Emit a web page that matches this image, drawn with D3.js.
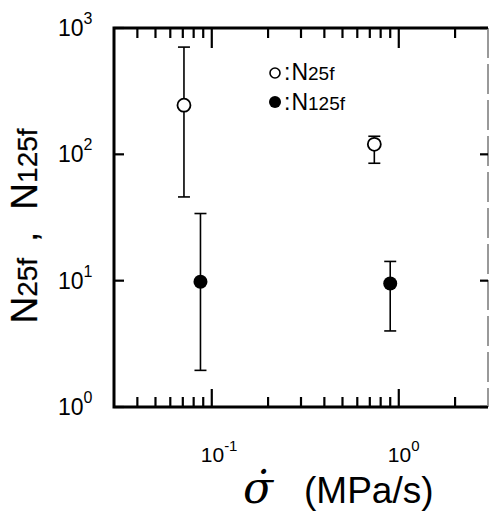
<!DOCTYPE html>
<html>
<head>
  <meta charset="utf-8">
  <script src="https://cdn.jsdelivr.net/npm/d3@7"></script>
  <style>
    body { margin: 0; background: #fff; }
    text { font-family: "Liberation Sans", Arial, sans-serif; fill: #000; }
  </style>
</head>
<body>
<script>
  // values
  var openX   = [0.071, 0.74],
      openY   = [245, 120],
      openHi  = [706, 139],
      openLo  = [46, 85];
  var fillX   = [0.087, 0.90],
      fillY   = [9.8, 9.5],
      fillHi  = [34, 14.2],
      fillLo  = [1.95, 4.0];

  var xMajor = [0.1, 1],
      xMinor = [0.04, 0.05, 0.06, 0.07, 0.08, 0.09, 0.2, 0.3, 0.4, 0.5, 0.6, 0.7, 0.8, 0.9, 2],
      xLabels = [{v: 0.1, e: "-1"}, {v: 1, e: "0"}];
  var yMajor = [1, 10, 100, 1000],
      yLabels = [{v: 1, e: "0"}, {v: 10, e: "1"}, {v: 100, e: "2"}, {v: 1000, e: "3"}];

  var width = 489, height = 512;
  var pLeft = 114, pRight = 488, pTop = 28, pBottom = 407;

  var svg = d3.select("body").append("svg")
      .attr("width", width)
      .attr("height", height);

  var x = d3.scaleLog().domain([0.03, 3]).range([pLeft, pRight]);
  var y = d3.scaleLog().domain([1, 1000]).range([pBottom, pTop]);

  /* frame */
  var frame = svg.append("g").attr("class", "frame");
  frame.append("path")
      .attr("d", "M" + pLeft + "," + pTop + "H" + pRight + "M" + pLeft + "," + (pTop - 1.5) + "V" + pBottom + "H" + pRight)
      .attr("fill", "none").attr("stroke", "#000").attr("stroke-width", 3);
  frame.append("line")
      .attr("x1", pRight).attr("x2", pRight).attr("y1", pTop).attr("y2", pBottom)
      .attr("stroke", "#999").attr("stroke-width", 2)
      .attr("stroke-dasharray", "30,6");

  /* x ticks, inward on bottom and top */
  var ticks = svg.append("g").attr("stroke", "#000").attr("stroke-width", 2.2);
  xMinor.forEach(function (v) {
    ticks.append("line").attr("x1", x(v)).attr("x2", x(v)).attr("y1", pBottom).attr("y2", pBottom - 10);
    ticks.append("line").attr("x1", x(v)).attr("x2", x(v)).attr("y1", pTop).attr("y2", pTop + 10);
  });
  xMajor.forEach(function (v) {
    ticks.append("line").attr("x1", x(v)).attr("x2", x(v)).attr("y1", pBottom).attr("y2", pBottom - 18);
    ticks.append("line").attr("x1", x(v)).attr("x2", x(v)).attr("y1", pTop).attr("y2", pTop + 20);
  });
  /* y ticks, left and right */
  yMajor.forEach(function (v) {
    ticks.append("line").attr("x1", pLeft).attr("x2", pLeft + 10).attr("y1", y(v)).attr("y2", y(v));
    ticks.append("line").attr("x1", pRight).attr("x2", pRight - 8).attr("y1", y(v)).attr("y2", y(v));
  });

  /* tick labels */
  svg.selectAll(".xl").data(xLabels).enter().append("text")
      .attr("class", "xl")
      .attr("x", function (d) { return x(d.v) - 11; })
      .attr("y", 462)
      .style("font-size", "21px")
      .each(function (d) {
        var t = d3.select(this);
        t.append("tspan").text("10");
        t.append("tspan").attr("dy", -11).style("font-size", "15px").text(d.e);
      });

  svg.selectAll(".yl").data(yLabels).enter().append("text")
      .attr("class", "yl")
      .attr("x", 58)
      .attr("y", function (d) { return y(d.v) + 8; })
      .style("font-size", "23px")
      .each(function (d) {
        var t = d3.select(this);
        t.append("tspan").text("10");
        t.append("tspan").attr("dy", -12).style("font-size", "16px").text(d.e);
      });

  /* error bars */
  function errorBars(xs, ys, hi, lo) {
    var g = svg.append("g").attr("stroke", "#000").attr("stroke-width", 1.6);
    xs.forEach(function (xv, i) {
      var cx = x(xv);
      g.append("line").attr("x1", cx).attr("x2", cx).attr("y1", y(hi[i])).attr("y2", y(lo[i]));
      g.append("line").attr("x1", cx - 6).attr("x2", cx + 6).attr("y1", y(hi[i])).attr("y2", y(hi[i]));
      g.append("line").attr("x1", cx - 6).attr("x2", cx + 6).attr("y1", y(lo[i])).attr("y2", y(lo[i]));
    });
  }
  errorBars(openX, openY, openHi, openLo);
  errorBars(fillX, fillY, fillHi, fillLo);

  svg.selectAll(".open").data(openX).enter().append("circle")
      .attr("class", "open")
      .attr("cx", function (d) { return x(d); })
      .attr("cy", function (d, i) { return y(openY[i]); })
      .attr("r", 6.5)
      .attr("fill", "#fff").attr("stroke", "#000").attr("stroke-width", 1.8);

  svg.selectAll(".filled").data(fillX).enter().append("circle")
      .attr("class", "filled")
      .attr("cx", function (d) { return x(d); })
      .attr("cy", function (d, i) { return y(fillY[i]); })
      .attr("r", 7)
      .attr("fill", "#000");

  /* legend */
  var lg = svg.append("g");
  lg.append("circle").attr("cx", 275).attr("cy", 73).attr("r", 5)
      .attr("fill", "#fff").attr("stroke", "#000").attr("stroke-width", 1.6);
  lg.append("circle").attr("cx", 275).attr("cy", 102).attr("r", 6).attr("fill", "#000");
  [["25f", 80], ["125f", 110]].forEach(function (d) {
    var t = lg.append("text").attr("x", 284).attr("y", d[1]).style("font-size", "23px");
    t.append("tspan").text(":");
    t.append("tspan").attr("dx", 1).text("N");
    t.append("tspan").style("font-size", "19px").text(d[0]);
  });

  /* axis titles */
  var yt = svg.append("text")
      .attr("transform", "translate(37,226) rotate(-90)")
      .attr("text-anchor", "middle")
      .style("font-size", "37px")
      .style("stroke", "#000").style("stroke-width", 0.25);
  yt.append("tspan").text("N");
  yt.append("tspan").style("font-size", "28px").text("25f");
  yt.append("tspan").attr("dx", 16).text(",");
  yt.append("tspan").attr("dx", 22).text("N");
  yt.append("tspan").style("font-size", "28px").text("125f");

  svg.append("text")
      .attr("x", 243).attr("y", 503)
      .style("font-family", "'DejaVu Serif', serif")
      .style("font-style", "italic")
      .style("font-size", "44px")
      .text("\u03c3\u0307");

  svg.append("text")
      .attr("x", 304).attr("y", 503)
      .style("font-size", "37px")
      .text("(MPa/s)");
</script>
</body>
</html>
